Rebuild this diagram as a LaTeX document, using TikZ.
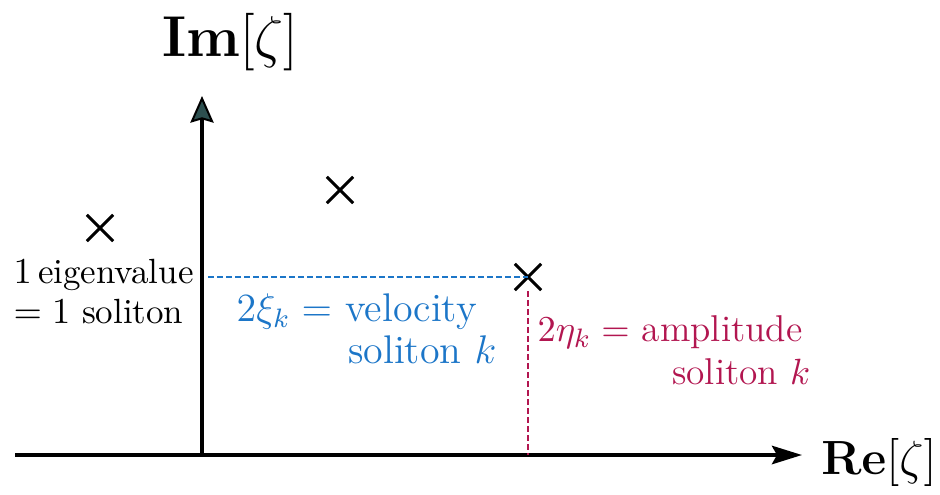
\documentclass[tikz,border=0pt]{standalone}
\usetikzlibrary{arrows.meta,shapes.misc}
\definecolor{velblue}{RGB}{28,118,200}
\definecolor{ampred}{RGB}{178,22,80}
\definecolor{tipfill}{RGB}{45,80,80}
\begin{document}
\begin{tikzpicture}[x=0.3pt,y=-0.3pt,
  axis/.style={line width=1.2pt},
  eig/.style={cross out,draw,line width=0.9pt,minimum size=7pt,inner sep=0pt},
  bluedash/.style={velblue,line width=0.85pt,dash pattern=on 1.7pt off 1pt},
  reddash/.style={ampred,line width=0.85pt,dash pattern=on 1.7pt off 1pt},
  lbl/.style={inner sep=0pt,font=\fontsize{10.5}{12}\selectfont},
  biglbl/.style={inner sep=0pt,font=\LARGE}]
\useasboundingbox (0,0) rectangle (940,494);
% axes
\coordinate (xs) at (15,455);
\coordinate (xe) at (802,455);
\coordinate (ys) at (202,455);
\coordinate (ye) at (202,96);
\draw[axis,-{Stealth[length=9pt,width=5.5pt,inset=1.5pt,fill=black]}] (xs) -- (xe);
\draw[axis,-{Stealth[length=8pt,width=7pt,inset=1pt,fill=tipfill,line width=0.6pt]}] (ys) -- (ye);
\node[biglbl] (im) at (230,42) {$\mathbf{Im}[\zeta]$};
\node[biglbl,font=\Large] (re) at (879,462) {$\mathbf{Re}[\zeta]$};
% eigenvalues
\node[eig] (c1) at (100,228) {};
\node[eig] (c2) at (340,190) {};
\node[eig] (c3) at (528,277) {};
% projections
\coordinate (yp) at (208,277);
\coordinate (xp) at (528,455);
\draw[bluedash] (yp) -- (c3.center);
\draw[reddash] (c3.center) ++(0,14) coordinate (c3s) -- (xp);
% labels
\node[lbl,anchor=west] (l1) at (13,275) {$1\,$eigenvalue};
\node[lbl,anchor=west] (l2) at (13,312) {$=1$ soliton};
\node[lbl,anchor=west,velblue,font=\large] (v1) at (236,312) {$2\xi_k=$ velocity};
\node[lbl,anchor=east,velblue,font=\large] (v2) at (497,350) {soliton $k$};
\node[lbl,anchor=west,ampred,font=\fontsize{11.2}{13}\selectfont] (a1) at (537,332) {$2\eta_k=$ amplitude};
\node[lbl,anchor=east,ampred,font=\fontsize{11.2}{13}\selectfont] (a2) at (811,372) {soliton $k$};
\end{tikzpicture}
\end{document}
